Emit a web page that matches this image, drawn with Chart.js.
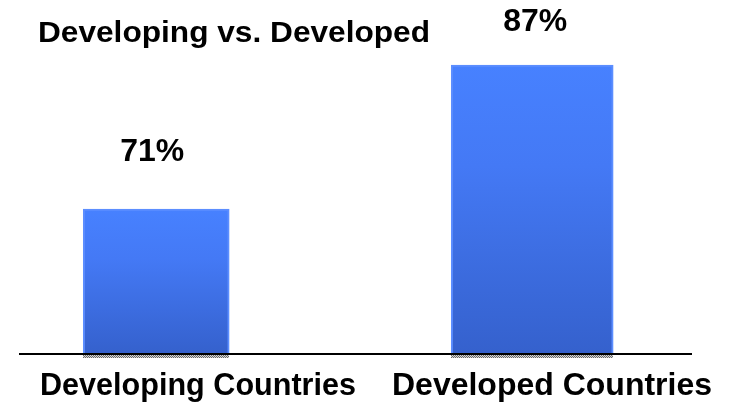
<!DOCTYPE html>
<html>
<head>
<meta charset="utf-8">
<title>Developing vs. Developed</title>
<script src="https://cdn.jsdelivr.net/npm/chart.js@4/dist/chart.umd.min.js"></script>
<style>
  html, body { margin: 0; background: #fff; }
  canvas { display: block; }
</style>
</head>
<body>
<canvas id="chart" width="730" height="402"></canvas>
<script>
const chartTitle = 'Developing vs. Developed';
const categories = ['Developing Countries', 'Developed Countries'];
const shares = [71, 87];
const axisMin = 55;
const axisMax = 90;

const FONT = '"Liberation Sans", Arial, Helvetica, sans-serif';

// bar look and label placement
const barWidths = [146, 162];
const labelLift = [48, 34];
const labelShift = [-4, 3];
const categoryBoxes = [[40, 316], [392, 320]]; // left, width

// fit each text run to the width it should span
function stretchText(ctx, text, x, y, size, width, align) {
  ctx.save();
  ctx.font = 'bold ' + size + 'px ' + FONT;
  const natural = ctx.measureText(text).width;
  ctx.translate(x, y);
  ctx.scale(width / natural, 1);
  ctx.textAlign = align || 'left';
  ctx.textBaseline = 'alphabetic';
  ctx.fillStyle = '#000';
  ctx.fillText(text, 0, 0);
  ctx.restore();
}

function hatchPattern(ctx) {
  const c = document.createElement('canvas');
  c.width = 2; c.height = 2;
  const p = c.getContext('2d');
  p.fillStyle = '#d6d6d6'; p.fillRect(0, 0, 2, 2);
  p.fillStyle = '#6a6a6a'; p.fillRect(0, 0, 1, 1); p.fillRect(1, 1, 1, 1);
  return ctx.createPattern(c, 'repeat');
}

function barFill(context) {
  const chart = context.chart;
  const area = chart.chartArea;
  if (!area || !context.raw) return '#4680ff';
  const top = chart.scales.y.getPixelForValue(context.raw.y);
  const g = chart.ctx.createLinearGradient(0, top, 0, area.bottom);
  g.addColorStop(0, '#4781ff');
  g.addColorStop(0.35, '#4479f5');
  g.addColorStop(1, '#3561cd');
  return g;
}

const decorations = {
  id: 'decorations',
  afterDatasetsDraw(chart) {
    const { ctx, chartArea } = chart;
    ctx.save();
    ctx.strokeStyle = '#000';
    ctx.lineWidth = 2;
    ctx.beginPath();
    ctx.moveTo(chartArea.left, chartArea.bottom + 1);
    ctx.lineTo(chartArea.right, chartArea.bottom + 1);
    ctx.stroke();

    const pattern = hatchPattern(ctx);
    chart.data.datasets.forEach((ds, i) => {
      const bar = chart.getDatasetMeta(i).data[0];
      ctx.fillStyle = pattern;
      ctx.fillRect(Math.round(bar.x - bar.width / 2), chartArea.bottom + 2, Math.round(bar.width), 3);
      stretchText(ctx, shares[i] + '%', bar.x + labelShift[i], bar.y - labelLift[i], 32, 64, 'center');
    });
    ctx.restore();
  },
  afterDraw(chart) {
    const ctx = chart.ctx;
    stretchText(ctx, chartTitle, 38, 42, 29, 392);
    categories.forEach((name, i) => {
      stretchText(ctx, name, categoryBoxes[i][0], 395, 32, categoryBoxes[i][1]);
    });
  }
};

new Chart(document.getElementById('chart'), {
  type: 'bar',
  data: {
    datasets: categories.map((name, i) => ({
      label: name,
      data: [{ x: i, y: shares[i] }],
      barThickness: barWidths[i],
      base: axisMin,
      backgroundColor: barFill,
      borderColor: '#5c8eff',
      borderWidth: { top: 2, left: 2, right: 2, bottom: 0 },
      borderSkipped: false
    }))
  },
  options: {
    responsive: false,
    animation: false,
    grouped: false,
    layout: { padding: { left: 19, right: 38, top: 38, bottom: 49 } },
    plugins: {
      legend: { display: false },
      tooltip: { enabled: false },
      title: { display: false }
    },
    scales: {
      x: { type: 'linear', offset: false, min: -0.365, max: 1.425, display: false },
      y: { min: axisMin, max: axisMax, display: false }
    }
  },
  plugins: [decorations]
});
</script>
</body>
</html>
